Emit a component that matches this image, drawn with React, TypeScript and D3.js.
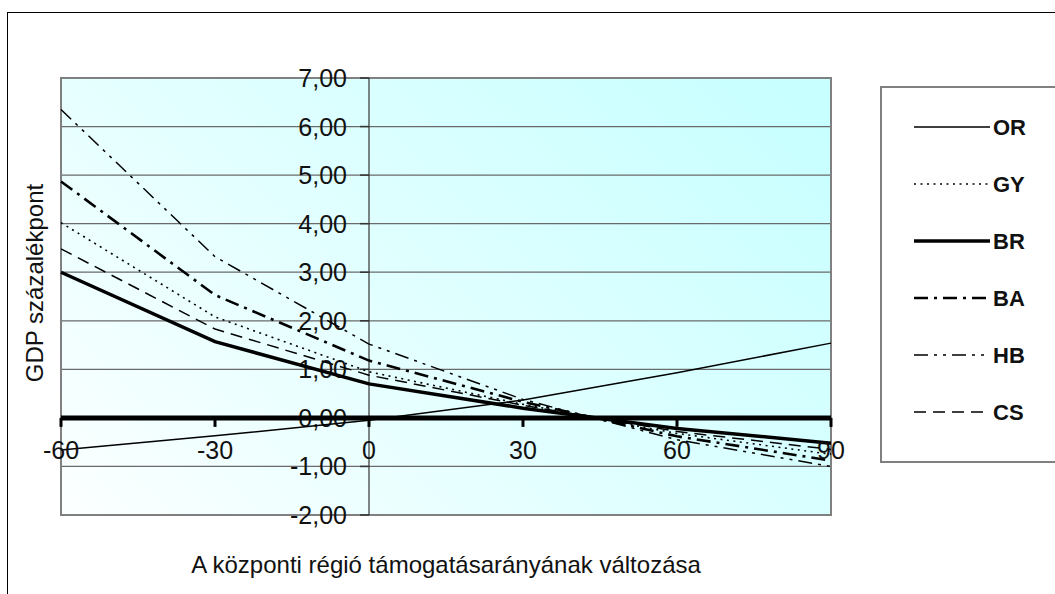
// @ts-nocheck
import * as d3 from "d3";
import React, { useRef, useEffect } from "react";

// x: change of the central region's support ratio
const xValues = [-60, -30, 0, 30, 60, 90];
const xTicks = [-60, -30, 0, 30, 60, 90];
const yTicks = [-2, -1, 0, 1, 2, 3, 4, 5, 6, 7];

const seriesNames = ["OR", "GY", "BR", "BA", "HB", "CS"];
const orValues = [-0.66, -0.37, -0.05, 0.37, 0.93, 1.54];
const gyValues = [4.02, 2.08, 0.95, 0.28, -0.32, -0.75];
const brValues = [3.0, 1.57, 0.7, 0.2, -0.22, -0.52];
const baValues = [4.87, 2.53, 1.18, 0.33, -0.38, -0.88];
const hbValues = [6.35, 3.32, 1.52, 0.38, -0.45, -1.0];
const csValues = [3.48, 1.83, 0.88, 0.26, -0.28, -0.65];

const lineStyles = {
  OR: { w: 1.5, dash: null },
  GY: { w: 1.6, dash: "2,4.5" },
  BR: { w: 3.5, dash: null },
  BA: { w: 2.6, dash: "14,6,3,6" },
  HB: { w: 1.5, dash: "14,6,3,6,3,6" },
  CS: { w: 1.5, dash: "12,7" },
};

const fmtTick = (d: number) => d.toFixed(2).replace(".", ",");

export default function App() {
  const svgRef = useRef<SVGSVGElement | null>(null);

  useEffect(() => {
    const width = 1055;
    const height = 594;
    const plot = { left: 61, right: 831, top: 78, bottom: 515 };
    const font = "'Liberation Sans', Arial, sans-serif";

    const svg = d3.select(svgRef.current).attr("width", width).attr("height", height);
    svg.selectAll("*").remove();

    const x = d3.scaleLinear().domain([-60, 90]).range([plot.left, plot.right]);
    const y = d3.scaleLinear().domain([-2, 7]).range([plot.bottom, plot.top]);

    svg.append("rect").attr("width", width).attr("height", height).attr("fill", "#fff");
    // outer frame
    svg.append("rect")
      .attr("x", 7.5).attr("y", 12.5).attr("width", 1060).attr("height", 600)
      .attr("fill", "none").attr("stroke", "#000").attr("stroke-width", 1);

    const defs = svg.append("defs");
    const grad = defs.append("linearGradient").attr("id", "bg")
      .attr("gradientUnits", "userSpaceOnUse")
      .attr("x1", plot.left + 60).attr("y1", plot.bottom + 120)
      .attr("x2", plot.right - 120).attr("y2", plot.top - 60);
    grad.append("stop").attr("offset", "0%").attr("stop-color", "#ffffff");
    grad.append("stop").attr("offset", "50%").attr("stop-color", "#e2ffff");
    grad.append("stop").attr("offset", "100%").attr("stop-color", "#c8ffff");

    svg.append("rect")
      .attr("x", plot.left).attr("y", plot.top)
      .attr("width", plot.right - plot.left).attr("height", plot.bottom - plot.top)
      .attr("fill", "url(#bg)");

    // gridlines
    svg.append("g").selectAll("line").data(yTicks.filter(d => d !== 7 && d !== -2 && d !== 0)).join("line")
      .attr("x1", plot.left).attr("x2", plot.right)
      .attr("y1", d => y(d)).attr("y2", d => y(d))
      .attr("stroke", "#6a6a6a").attr("stroke-width", 1.2);

    svg.append("rect")
      .attr("x", plot.left).attr("y", plot.top)
      .attr("width", plot.right - plot.left).attr("height", plot.bottom - plot.top)
      .attr("fill", "none").attr("stroke", "#808080").attr("stroke-width", 2);

    // y axis at x = 0
    const yAxis = svg.append("g").attr("transform", `translate(${x(0)},0)`);
    yAxis.append("line").attr("y1", plot.top).attr("y2", plot.bottom)
      .attr("stroke", "#333").attr("stroke-width", 1.2);
    yAxis.selectAll("line.tick").data(yTicks).join("line").attr("class", "tick")
      .attr("x1", -9).attr("x2", 0).attr("y1", d => y(d)).attr("y2", d => y(d))
      .attr("stroke", "#333").attr("stroke-width", 1.5);
    yAxis.selectAll("text").data(yTicks).join("text")
      .attr("x", -22).attr("y", d => y(d)).attr("dy", "0.36em")
      .attr("text-anchor", "end").attr("font-family", font).attr("font-size", 25)
      .attr("fill", "#111")
      .text(d => fmtTick(d));

    const line = d3.line<number>().x((d, i) => x(xValues[i])).y(d => y(d));
    const dataBySeries = { OR: orValues, GY: gyValues, BR: brValues, BA: baValues, HB: hbValues, CS: csValues };

    const drawOrder = ["CS", "HB", "BA", "GY", "OR", "BR"];
    drawOrder.forEach(name => {
      const s = lineStyles[name];
      svg.append("path").datum(dataBySeries[name])
        .attr("fill", "none").attr("stroke", "#000")
        .attr("stroke-width", s.w)
        .attr("stroke-dasharray", s.dash)
        .attr("d", line);
    });

    // x axis at y = 0 (thick)
    const xAxis = svg.append("g").attr("transform", `translate(0,${y(0)})`);
    xAxis.append("line").attr("x1", plot.left).attr("x2", plot.right)
      .attr("stroke", "#000").attr("stroke-width", 5);
    xAxis.selectAll("line.tick").data(xTicks).join("line").attr("class", "tick")
      .attr("x1", d => x(d)).attr("x2", d => x(d)).attr("y1", 0).attr("y2", 9)
      .attr("stroke", "#000").attr("stroke-width", 3);
    xAxis.selectAll("text").data(xTicks).join("text")
      .attr("x", d => x(d)).attr("y", 41)
      .attr("text-anchor", "middle").attr("font-family", font).attr("font-size", 25)
      .attr("fill", "#111")
      .text(d => String(d));

    // axis titles
    svg.append("text")
      .attr("transform", `translate(43,283) rotate(-90)`)
      .attr("text-anchor", "middle").attr("font-family", font).attr("font-size", 24)
      .attr("fill", "#111").text("GDP százalékpont");
    svg.append("text")
      .attr("x", 446).attr("y", 573)
      .attr("text-anchor", "middle").attr("font-family", font).attr("font-size", 24)
      .attr("fill", "#111").text("A központi régió támogatásarányának változása");

    // legend
    svg.append("rect")
      .attr("x", 881).attr("y", 87).attr("width", 200).attr("height", 375)
      .attr("fill", "#fff").attr("stroke", "#808080").attr("stroke-width", 2);
    const ly = d3.scalePoint().domain(seriesNames).range([127, 412]);
    seriesNames.forEach(name => {
      const s = lineStyles[name];
      svg.append("line")
        .attr("x1", 914).attr("x2", 990).attr("y1", ly(name)).attr("y2", ly(name))
        .attr("stroke", "#000").attr("stroke-width", s.w).attr("stroke-dasharray", s.dash);
      svg.append("text")
        .attr("x", 993).attr("y", ly(name)).attr("dy", "0.36em")
        .attr("font-family", font).attr("font-size", 22).attr("font-weight", "bold")
        .attr("fill", "#111").text(name);
    });
  }, []);

  return <svg ref={svgRef} style={{ position: "absolute", left: 0, top: 0, display: "block" }} />;
}
